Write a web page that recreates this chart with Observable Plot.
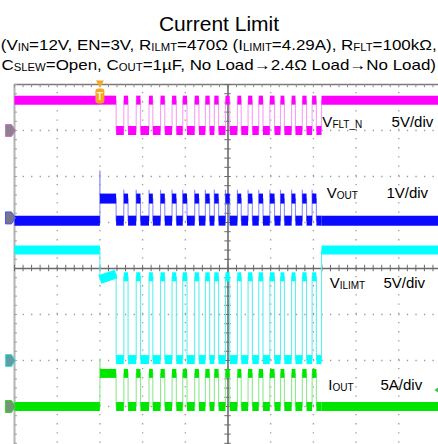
<!DOCTYPE html>
<html><head><meta charset="utf-8">
<script src="https://cdn.jsdelivr.net/npm/d3@7"></script>
<script src="https://cdn.jsdelivr.net/npm/@observablehq/plot@0.6"></script>
<style>
html,body{margin:0;padding:0;background:#fff;}
body{width:438px;height:444px;overflow:hidden;position:relative;font-family:"Liberation Sans",Arial,sans-serif;color:#000;}
#hdr{position:relative;height:80px;width:438px;}
#title{position:absolute;left:0;top:13px;width:438px;text-align:center;font-size:21px;line-height:21px;}
#sub{position:absolute;left:0;top:36px;width:438px;text-align:center;font-size:15px;line-height:18px;white-space:nowrap;transform:scaleX(1.13);transform-origin:221px 0;}
#sub span.s{font-size:10px;position:relative;top:1px;}
#chart svg{display:block;}
</style></head>
<body>
<div id="hdr">
<div id="title">Current Limit</div>
<div id="sub">(V<span class="s">IN</span>=12V, EN=3V, R<span class="s">ILMT</span>=470Ω (I<span class="s">LIMIT</span>=4.29A), R<span class="s">FLT</span>=100kΩ,<br>C<span class="s">SLEW</span>=Open, C<span class="s">OUT</span>=1µF, No Load→2.4Ω Load→No Load)</div>
</div>
<div id="chart"></div>
<script>
// ---------- timing, in horizontal divisions ----------
const loadOn = 2.0;     // load applied (trigger)
const faultOn = 2.38;   // first shutdown
const loadOff = 7.19;   // load removed
const pulseStart = [2.56, 2.85, 3.15, 3.42, 3.69, 3.94, 4.22, 4.47, 4.68, 4.94, 5.22, 5.47, 5.72, 5.98, 6.23, 6.49, 6.74, 6.97];
const pulseEnd   = [2.66, 2.95, 3.24, 3.52, 3.79, 4.04, 4.32, 4.57, 4.78, 5.04, 5.31, 5.57, 5.82, 6.09, 6.32, 6.58, 6.84, 7.07];

// ---------- channels ----------
const chName   = ["V|FLT_N", "V|OUT", "V|ILIMT", "I|OUT"];
const chScale  = ["5V/div", "1V/div", "5V/div", "5A/div"];
const perDiv   = [5, 1, 5, 5];
const chOffset = [3, 1.1, -2, -3];           // ground marker, divisions
const idleLevel  = [3.3, -0.06, 12.0, 0];
const startFrom  = [3.3, 0.42, 8.8, 3.6];
const startTo    = [3.3, 0.42, 9.4, 3.6];
const offLevel   = [0, -0.06, 0.1, 0];
const pulseLevel = [3.3, 0.42, 9.1, 3.6];
const startSpike = [null, 1.02, null, 5.1];
const pulseSpike = [null, 0.6, null, null];
const trigLevel = 1.8; // A, on IOUT

// ---------- styles / layout ----------
const bandColor = ["#ff00ff", "#0a0aff", "#00ffff", "#00e600"];
const edgeColor = ["#f5a0f5", "#8c8cff", "#60eeee", "#8ee88e"];
const bandWidth = [9, 10, 9, 9];
const markFill   = ["#8f7f8f", "#76768a", "#5f9ea4", "#6f9a6f"];
const markStroke = ["#c878c8", "#5050ff", "#40dede", "#40cc40"];
const labelX = [7.21, 7.31, 7.38, 7.35];
const labelY = [3.17, 1.63, -0.33, -2.53];
const scaleX = [8.83, 8.71, 8.64, 8.57];

function segmentsFor(c) {
  const s = [];
  s.push([0, loadOn, idleLevel[c], idleLevel[c]]);
  s.push([loadOn, faultOn, startFrom[c], startTo[c]]);
  let prev = faultOn;
  pulseStart.forEach((p, i) => {
    s.push([prev, p, offLevel[c], offLevel[c]]);
    s.push([p, pulseEnd[i], pulseLevel[c], pulseLevel[c]]);
    prev = pulseEnd[i];
  });
  s.push([prev, loadOff, offLevel[c], offLevel[c]]);
  s.push([loadOff, 10, idleLevel[c], idleLevel[c]]);
  const toDiv = v => chOffset[c] + v / perDiv[c];
  return s.map(([t0, t1, v0, v1]) => ({t0, t1, y0: toDiv(v0), y1: toDiv(v1)}));
}

const minorX = d3.range(0, 10.001, 0.2);
const minorY = d3.range(-4, 4.001, 0.2);
const gridCol = "#9a9a9a";
const axisCol = "#6a6a6a";

const markerSym = {draw(ctx) { ctx.moveTo(-5, -6); ctx.lineTo(1, -6); ctx.lineTo(5, 0); ctx.lineTo(1, 6); ctx.lineTo(-5, 6); ctx.closePath(); }};
const trigSym = {draw(ctx) {
  ctx.moveTo(-4, -4); ctx.lineTo(4, -4); ctx.lineTo(0, 3); ctx.closePath();
  const x0 = -4.5, x1 = 4.5, y0 = 4, y1 = 19, r = 3;
  ctx.moveTo(x0 + r, y0); ctx.lineTo(x1 - r, y0); ctx.arcTo(x1, y0, x1, y0 + r, r);
  ctx.lineTo(x1, y1 - r); ctx.arcTo(x1, y1, x1 - r, y1, r);
  ctx.lineTo(x0 + r, y1); ctx.arcTo(x0, y1, x0, y1 - r, r);
  ctx.lineTo(x0, y0 + r); ctx.arcTo(x0, y0, x0 + r, y0, r); ctx.closePath();
}};
const leftTri = {draw(ctx) { ctx.moveTo(3, -3.5); ctx.lineTo(-2, 0); ctx.lineTo(3, 3.5); ctx.closePath(); }};

const marks = [
  // dotted grid
  Plot.ruleX([1, 2, 3, 4, 6, 7, 8, 9], {y1: -4, y2: 4, stroke: gridCol, strokeWidth: 1.3, strokeDasharray: "1.3 7.9"}),
  Plot.ruleY([-3, -2, -1, 1, 2, 3], {x1: 0, x2: 10, stroke: gridCol, strokeWidth: 1.3, strokeDasharray: "1.3 7.24"}),
  // borders
  Plot.ruleX([0], {y1: -4, y2: 4, stroke: "#b4b4b4", strokeWidth: 2}),
  Plot.ruleY([4], {x1: 0, x2: 10, stroke: "#7a7a7a", strokeWidth: 1.5}),
  Plot.ruleX(minorX, {y1: 3.93, y2: 4, stroke: "#8a8a8a", strokeWidth: 1}),
  Plot.ruleY(minorY, {x1: 0, x2: 0.07, stroke: "#a0a0a0", strokeWidth: 1}),
  // center axes with ticks
  Plot.ruleX([5], {y1: -4, y2: 4, stroke: axisCol, strokeWidth: 1.6}),
  Plot.ruleY([0], {x1: 0, x2: 10, stroke: axisCol, strokeWidth: 1.6}),
  Plot.ruleY(minorY, {x1: 4.925, x2: 5.075, stroke: axisCol, strokeWidth: 1}),
  Plot.ruleX(minorX, {y1: -0.07, y2: 0.07, stroke: axisCol, strokeWidth: 1})
];

// traces: drawn green, cyan, blue, magenta
[3, 2, 1, 0].forEach(c => {
  const segs = segmentsFor(c);
  const pts = segs.flatMap(d => [{t: d.t0, y: d.y0}, {t: d.t1, y: d.y1}]);
  marks.push(Plot.line(pts, {x: "t", y: "y", stroke: edgeColor[c], strokeWidth: 1.1}));
  if (startSpike[c] != null) {
    marks.push(Plot.ruleX([loadOn], {x: d => d, y1: chOffset[c] + startFrom[c] / perDiv[c], y2: chOffset[c] + startSpike[c] / perDiv[c], stroke: edgeColor[c], strokeWidth: 1.3}));
  }
  if (pulseSpike[c] != null) {
    marks.push(Plot.ruleX(pulseStart, {x: d => d, y1: chOffset[c] + pulseLevel[c] / perDiv[c], y2: chOffset[c] + pulseSpike[c] / perDiv[c], stroke: edgeColor[c], strokeWidth: 1.2}));
  }
  marks.push(Plot.link(segs, {x1: "t0", x2: "t1", y1: "y0", y2: "y1", stroke: bandColor[c], strokeWidth: bandWidth[c], strokeLinecap: "butt"}));
  // ground marker
  marks.push(Plot.dot([chOffset[c]], {x: -0.094, y: d => d, symbol: markerSym, fill: markFill[c], stroke: markStroke[c], strokeWidth: 1}));
  // labels
  marks.push(Plot.text([c], {x: i => labelX[i], y: i => labelY[i], text: i => chName[i], textAnchor: "start", fontSize: 15, fontFamily: "Liberation Sans, Arial, sans-serif", fill: "#000"}));
  marks.push(Plot.text([c], {x: i => scaleX[i], y: i => labelY[i], text: i => chScale[i], textAnchor: "start", fontSize: 15, fontFamily: "Liberation Sans, Arial, sans-serif", fill: "#000"}));
});

// trigger markers
marks.push(Plot.dot([loadOn], {x: d => d, y: 4, symbol: trigSym, fill: "#f5a623", stroke: "none"}));
marks.push(Plot.text([loadOn], {x: d => d, y: 4, text: () => "T", dy: 12, fontSize: 10, fontWeight: "bold", fill: "#fff4cf", fontFamily: "Liberation Sans, Arial, sans-serif"}));
marks.push(Plot.dot([trigLevel], {x: 9.88, y: d => chOffset[3] + d / perDiv[3], symbol: leftTri, fill: "#3cc83c", stroke: "none"}));

const chart = Plot.plot({
  width: 438, height: 364,
  marginTop: 0, marginRight: 0, marginBottom: 0, marginLeft: 0,
  x: {domain: [0, 10], range: [14, 441], axis: null},
  y: {domain: [-4, 4], range: [372, 4], axis: null},
  style: {background: "transparent"},
  marks
});

// subscripts in channel labels
const NS = "http://www.w3.org/2000/svg";
chart.querySelectorAll("text").forEach(t => {
  const s = t.textContent;
  if (s.includes("|")) {
    const [m, sub] = s.split("|");
    t.textContent = "";
    const a = document.createElementNS(NS, "tspan"); a.textContent = m; t.appendChild(a);
    const b = document.createElementNS(NS, "tspan"); b.textContent = sub;
    b.setAttribute("font-size", "10"); b.setAttribute("dy", "1"); t.appendChild(b);
  }
});
document.getElementById("chart").appendChild(chart);
</script>
</body></html>
